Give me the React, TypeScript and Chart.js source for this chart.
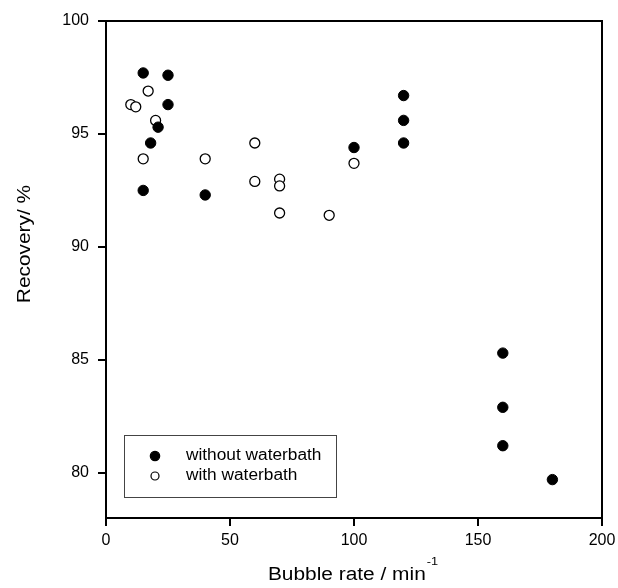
import React, { useEffect, useRef } from 'react';
import { Chart, registerables } from 'chart.js';

Chart.register(...registerables);

const FONT = '"Liberation Sans", Arial, Helvetica, sans-serif';

// Data
const withoutX = [15, 15, 18, 21, 25, 25, 40, 100, 120, 120, 120, 160, 160, 160, 180];
const withoutY = [97.7, 92.5, 94.6, 95.3, 97.6, 96.3, 92.3, 94.4, 96.7, 95.6, 94.6, 85.3, 82.9, 81.2, 79.7];
const withX = [10, 12, 17, 20, 15, 40, 60, 60, 70, 70, 70, 90, 100];
const withY = [96.3, 96.2, 96.9, 95.6, 93.9, 93.9, 94.6, 92.9, 93.0, 92.7, 91.5, 91.4, 93.7];

const xTicks = [0, 50, 100, 150, 200];
const yTicks = [80, 85, 90, 95, 100];
const seriesLabels = ['without waterbath', 'with waterbath'];
const xTitle = 'Bubble rate / min';
const xTitleSup = '-1';
const yTitle = 'Recovery/ %';

const drawStretched = (ctx: CanvasRenderingContext2D, text: string, x: number, y: number, sx: number) => {
  ctx.save();
  ctx.translate(x, y);
  ctx.scale(sx, 1);
  ctx.fillText(text, 0, 0);
  ctx.restore();
};

const decorPlugin = {
  id: 'decor',
  beforeDatasetsDraw(chart: any) {
    const { ctx, chartArea: a } = chart;
    ctx.save();
    ctx.strokeStyle = '#000';
    ctx.lineWidth = 2;
    ctx.beginPath();
    ctx.moveTo(a.left - 1, a.top);
    ctx.lineTo(a.right, a.top);
    ctx.lineTo(a.right, a.bottom + 1);
    ctx.stroke();
    ctx.restore();
  },
  afterDraw(chart: any) {
    const { ctx, chartArea: a } = chart;
    ctx.save();
    ctx.fillStyle = '#000';
    ctx.textBaseline = 'alphabetic';

    // X title with superscript
    const sx = 1.16;
    ctx.font = `18px ${FONT}`;
    const mainW = ctx.measureText(xTitle).width * sx;
    ctx.font = `11px ${FONT}`;
    const supW = ctx.measureText(xTitleSup).width * sx;
    const cx = (a.left + a.right) / 2 - 1;
    const start = cx - (mainW + supW + 1) / 2;
    ctx.textAlign = 'left';
    ctx.font = `18px ${FONT}`;
    drawStretched(ctx, xTitle, start, a.bottom + 62, sx);
    ctx.font = `11px ${FONT}`;
    drawStretched(ctx, xTitleSup, start + mainW + 1, a.bottom + 47, sx);

    // Y title
    ctx.font = `18px ${FONT}`;
    ctx.save();
    ctx.translate(29.5, 244);
    ctx.rotate(-Math.PI / 2);
    ctx.scale(1.16, 1);
    ctx.textAlign = 'center';
    ctx.fillText(yTitle, 0, 0);
    ctx.restore();

    // Legend box
    const lx = a.left + 18;
    const ly = a.bottom - 83;
    ctx.strokeStyle = '#444';
    ctx.lineWidth = 1;
    ctx.strokeRect(Math.round(lx) + 0.5, Math.round(ly) + 0.5, 212, 62);
    ctx.font = `16px ${FONT}`;
    ctx.textAlign = 'left';
    const ds = chart.data.datasets;
    ds.forEach((d: any, i: number) => {
      const my = ly + 21 + i * 20;
      ctx.beginPath();
      ctx.arc(lx + 31, my, i === 0 ? 4.7 : 4, 0, Math.PI * 2);
      ctx.fillStyle = d.backgroundColor;
      ctx.fill();
      ctx.lineWidth = 1.2;
      ctx.strokeStyle = d.borderColor;
      ctx.stroke();
      ctx.fillStyle = '#000';
      drawStretched(ctx, d.label, lx + 62, my + 4, 1.08);
    });
    ctx.restore();
  },
};

export default function App() {
  const ref = useRef<HTMLCanvasElement | null>(null);

  useEffect(() => {
    document.body.style.margin = '0';
    const canvas = ref.current;
    if (!canvas) return;
    const tickFont = { family: FONT, size: 16 };
    const chart = new Chart(canvas, {
      type: 'scatter',
      data: {
        datasets: [
          {
            label: seriesLabels[0],
            data: withoutX.map((x, i) => ({ x, y: withoutY[i] })),
            backgroundColor: '#000',
            borderColor: '#000',
            borderWidth: 1,
            pointRadius: 5.2,
          },
          {
            label: seriesLabels[1],
            data: withX.map((x, i) => ({ x, y: withY[i] })),
            backgroundColor: '#fff',
            borderColor: '#000',
            borderWidth: 1.3,
            pointRadius: 5,
          },
        ],
      },
      options: {
        responsive: false,
        animation: false,
        devicePixelRatio: 1,
        layout: { padding: { top: 21, right: 16, bottom: 0, left: 0 } },
        plugins: { legend: { display: false }, tooltip: { enabled: false } },
        scales: {
          x: {
            type: 'linear',
            position: 'bottom',
            min: 0,
            max: 200,
            afterBuildTicks: (s: any) => {
              s.ticks = xTicks.map((v) => ({ value: v }));
            },
            afterFit: (s: any) => {
              s.height = 70;
              s.paddingLeft = 0;
              s.paddingRight = 0;
            },
            grid: {
              display: true,
              drawOnChartArea: false,
              drawTicks: true,
              tickLength: 8,
              lineWidth: 2,
              color: '#000',
            },
            border: { display: true, color: '#000', width: 2 },
            ticks: { font: tickFont, color: '#000', padding: 5, maxRotation: 0 },
          },
          y: {
            type: 'linear',
            position: 'left',
            min: 78,
            max: 100,
            afterBuildTicks: (s: any) => {
              s.ticks = yTicks.map((v) => ({ value: v }));
            },
            afterFit: (s: any) => {
              s.width = 106;
              s.paddingTop = 0;
              s.paddingBottom = 0;
            },
            grid: {
              display: true,
              drawOnChartArea: false,
              drawTicks: true,
              tickLength: 8,
              lineWidth: 2,
              color: '#000',
            },
            border: { display: true, color: '#000', width: 2 },
            ticks: { font: tickFont, color: '#000', padding: 9 },
          },
        },
      },
      plugins: [decorPlugin],
    } as any);
    return () => chart.destroy();
  }, []);

  return (
    <div style={{ width: 618, height: 588 }}>
      <canvas ref={ref} width={618} height={588} style={{ display: 'block' }} />
    </div>
  );
}
